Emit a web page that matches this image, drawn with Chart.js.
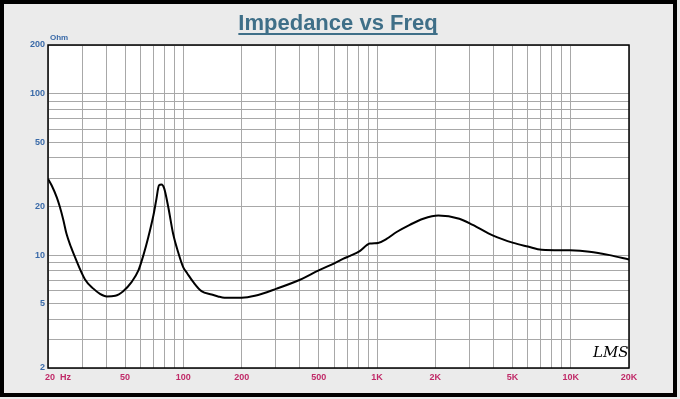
<!DOCTYPE html>
<html lang="en">
<head>
    <meta charset="UTF-8">
    <title>Impedance vs Freq</title>
    <script src="https://cdn.jsdelivr.net/npm/chart.js"></script>
    <style>
        html, body { margin: 0; padding: 0; background: #ebebeb; }
        #wrap { width: 680px; height: 399px; position: relative; }
    </style>
</head>
<body>
<div id="wrap"><canvas id="imp" width="680" height="399"></canvas></div>
<script>
// impedance curve
const freqs = [20, 20.9, 22.2, 23, 24, 24.9, 26.3, 27.3, 31, 34.3, 37.1, 40.2, 44.5, 48.9, 54,
    58.6, 62.2, 65.9, 70.1, 72.6, 74.8, 77.1, 79.6, 83.6, 88.6, 94.5, 99.9, 104.8, 112.6, 124, 140, 151, 163, 200, 234,
    303, 400, 500, 602, 671, 726, 814, 918, 1012, 1120, 1262, 1476, 1732, 2072,
    2660, 3120, 3980, 5060, 6010, 7080, 9920, 12500, 15900, 20000];
const impedance = [29.7, 27, 22.8, 20, 16.5, 13.6, 11.2, 10, 7.1, 6.2, 5.76, 5.55, 5.6, 5.98, 6.8,
    8.04, 10, 12.9, 17.7, 22.3, 27, 27.4, 25.9, 19.8, 13.5, 10.2, 8.4, 7.7, 6.8, 5.98, 5.7, 5.55, 5.45, 5.45, 5.6,
    6.2, 7.04, 8.04, 8.9, 9.5, 9.9, 10.6, 11.8, 11.9, 12.6, 13.9, 15.4, 16.8, 17.6,
    16.8, 15.4, 13.2, 11.9, 11.3, 10.8, 10.7, 10.5, 10.0, 9.4];

const xGrid = [20, 30, 40, 50, 60, 70, 80, 90, 100, 200, 300, 400, 500, 600, 700, 800, 900,
    1000, 2000, 3000, 4000, 5000, 6000, 7000, 8000, 9000, 10000, 20000];
const xLabels = { 20: '        20  Hz', 50: '50', 100: '100', 200: '200', 500: '500',
    1000: '1K', 2000: '2K', 5000: '5K', 10000: '10K', 20000: '20K' };
const yGrid = [2, 3, 4, 5, 6, 7, 8, 9, 10, 20, 30, 40, 50, 60, 70, 80, 90, 100, 200];
const yLabels = { 2: '2', 5: '5', 10: '10', 20: '20', 50: '50', 100: '100', 200: '200' };

const frame = {
    id: 'frame',
    beforeDraw(chart) {
        const { ctx, chartArea: a } = chart;
        ctx.save();
        ctx.fillStyle = '#ebebeb';
        ctx.fillRect(0, 0, chart.width, chart.height);
        ctx.fillStyle = '#fff';
        ctx.fillRect(a.left, a.top, a.right - a.left, a.bottom - a.top);
        ctx.restore();
    },
    afterDraw(chart) {
        const { ctx, chartArea: a } = chart;
        ctx.save();
        ctx.strokeStyle = '#000';
        ctx.lineWidth = 1.5;
        ctx.strokeRect(a.left, a.top, a.right - a.left, a.bottom - a.top);
        ctx.lineWidth = 4;
        ctx.strokeRect(2, 2, 673, 393);

        // title
        ctx.fillStyle = '#3f6f88';
        ctx.font = 'bold 22px "Liberation Sans", Arial, sans-serif';
        ctx.textAlign = 'center';
        ctx.textBaseline = 'alphabetic';
        ctx.fillText('Impedance vs Freq', 338, 30);
        const w = ctx.measureText('Impedance vs Freq').width;
        ctx.fillRect(338 - w / 2, 33, w, 2);

        ctx.fillStyle = '#3a6aa8';
        ctx.font = 'bold 8px "Liberation Sans", Arial, sans-serif';
        ctx.textAlign = 'left';
        ctx.fillText('Ohm', 50, 40);

        ctx.fillStyle = '#000';
        ctx.font = 'italic 15px "DejaVu Serif", serif';
        ctx.fillText('LMS', 593, 357);
        ctx.restore();
    }
};

new Chart(document.getElementById('imp'), {
    type: 'line',
    data: {
        datasets: [{
            data: freqs.map((f, i) => ({ x: f, y: impedance[i] })),
            borderColor: '#000',
            borderWidth: 2,
            pointRadius: 0,
            cubicInterpolationMode: 'monotone',
            fill: false
        }]
    },
    options: {
        responsive: false,
        animation: false,
        devicePixelRatio: 1,
        layout: { padding: { left: 0, top: 45, right: 51, bottom: 0 } },
        plugins: { legend: { display: false }, tooltip: { enabled: false } },
        scales: {
            x: {
                type: 'logarithmic',
                min: 20, max: 20000,
                afterBuildTicks: s => { s.ticks = xGrid.map(v => ({ value: v })); },
                afterFit: s => { s.height = 31; },
                grid: { color: '#a8a8a8', lineWidth: 1, drawTicks: false },
                border: { display: false },
                ticks: {
                    autoSkip: false, maxRotation: 0, padding: 4,
                    color: '#c02a68',
                    font: { family: '"Liberation Sans", Arial', size: 9, weight: 'bold' },
                    callback: v => xLabels[v] || ''
                }
            },
            y: {
                type: 'logarithmic',
                min: 2, max: 200,
                afterBuildTicks: s => { s.ticks = yGrid.map(v => ({ value: v })); },
                afterFit: s => { s.width = 48; },
                grid: { color: '#a8a8a8', lineWidth: 1, drawTicks: false },
                border: { display: false },
                ticks: {
                    autoSkip: false, padding: 3,
                    color: '#3a6aa8',
                    font: { family: '"Liberation Sans", Arial', size: 9, weight: 'bold' },
                    callback: v => yLabels[v] || ''
                }
            }
        }
    },
    plugins: [frame]
});
</script>
</body>
</html>
